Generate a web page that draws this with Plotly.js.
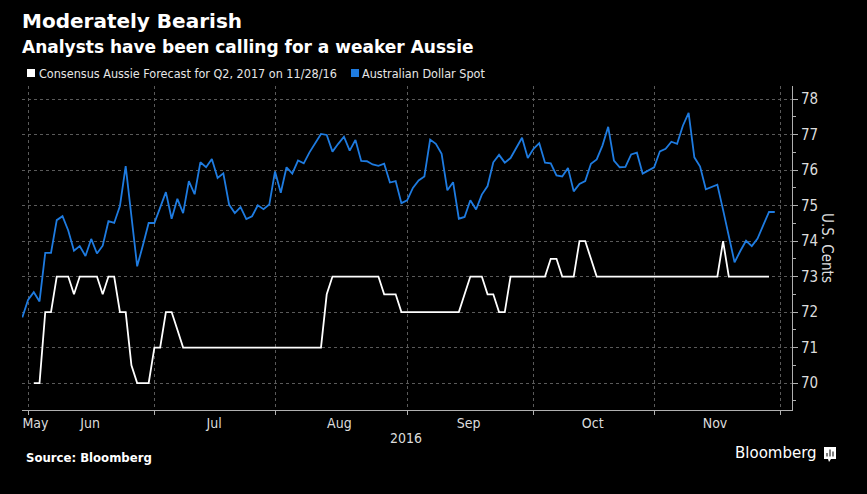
<!DOCTYPE html>
<html>
<head>
<meta charset="utf-8">
<script src="https://cdn.plot.ly/plotly-3.0.1.min.js"></script>
<style>
  html, body { margin: 0; padding: 0; background: #000; }
  #chart { width: 867px; height: 494px; }
</style>
</head>
<body>
<div id="chart"></div>
<script>
// ---- Data (one value per trading day, starting May 31, 2016) ----
const spotSeries = [
  71.85,72.34,72.56,72.30,73.67,73.67,74.59,74.70,74.30,73.73,
  73.86,73.58,74.06,73.65,73.87,74.56,74.51,74.99,76.11,74.70,
  73.29,73.88,74.51,74.51,74.96,75.38,74.63,75.19,74.79,75.69,
  75.32,76.22,76.08,76.31,75.78,75.91,75.03,74.79,74.96,74.62,
  74.70,75.01,74.90,75.03,75.96,75.36,76.08,75.90,76.27,76.19,
  76.50,76.76,77.02,76.99,76.52,76.74,76.94,76.55,76.85,76.26,
  76.25,76.16,76.12,76.18,75.65,75.69,75.07,75.15,75.50,75.71,
  75.82,76.86,76.74,76.46,75.43,75.66,74.63,74.68,75.15,74.89,
  75.31,75.55,76.22,76.43,76.21,76.34,76.64,76.91,76.34,76.60,
  76.76,76.21,76.19,75.85,75.82,76.06,75.40,75.61,75.69,76.18,
  76.30,76.69,77.22,76.27,76.08,76.09,76.44,76.49,75.90,75.99,
  76.08,76.53,76.60,76.80,76.74,77.25,77.61,76.36,76.10,75.46,
  75.52,75.59,74.88,74.14,73.40,73.72,74.01,73.86,74.07,74.45,
  74.82,74.82
];

const forecastSeries = [
  null,null,
  70,70,72,72,73,73,73,72.5,73,73,
  73,73,72.5,73,73,72,72,70.5,70,70,
  70,71,71,72,72,71.5,71,71,71,71,
  71,71,71,71,71,71,71,71,71,71,
  71,71,71,71,71,71,71,71,71,71,
  71,72.5,73,73,73,73,73,73,73,73,
  73,72.5,72.5,72.5,72,72,72,72,72,72,
  72,72,72,72,72,72.5,73,73,73,72.5,
  72.5,72,72,73,73,73,73,73,73,73,
  73.5,73.5,73,73,73,74,74,73.5,73,73,
  73,73,73,73,73,73,73,73,73,73,
  73,73,73,73,73,73,73,73,73,73,
  74,73,73,73,73,73,73,73,73,
  null
];

// Month labels and their trading-day positions
const monthLabels = ['May','Jun','Jul','Aug','Sep','Oct','Nov'];
const monthLabelPos = [2.3, 11.8, 33.4, 55.2, 77.7, 99.3, 120.6];
const monthStartPos = [1, 23, 44, 67, 89, 110, 132];
const yTicks = [70,71,72,73,74,75,76,77,78];

const seriesNames = ['Consensus Aussie Forecast for Q2, 2017 on 11/28/16', 'Australian Dollar Spot'];
const seriesColors = ['#ffffff', '#1e7be0'];

// ---- Layout helpers (pixel -> paper) ----
const PL = 22, PR = 792, PT = 86, PB = 410;
const fx = p => (p - PL) / (PR - PL);
const fy = p => (PB - p) / (PB - PT);

const condensed = '"DejaVu Sans Condensed", "Liberation Sans Narrow", "DejaVu Sans", sans-serif';
const heavy = '"DejaVu Sans", "Open Sans", sans-serif';

const xIdx = spotSeries.map((_, i) => i);

const traces = [
  {
    x: xIdx, y: forecastSeries, type: 'scatter', mode: 'lines',
    name: seriesNames[0], line: { color: seriesColors[0], width: 1.8 },
    connectgaps: false, hoverinfo: 'x+y'
  },
  {
    x: xIdx, y: spotSeries, type: 'scatter', mode: 'lines',
    name: seriesNames[1], line: { color: seriesColors[1], width: 1.8 },
    hoverinfo: 'x+y'
  }
];

const layout = {
  width: 867, height: 494, autosize: false,
  paper_bgcolor: '#000', plot_bgcolor: '#000',
  showlegend: false,
  margin: { l: PL, r: 867 - PR, t: PT, b: 494 - PB, pad: 0 },
  xaxis: {
    range: [-0.05, 134],
    tickmode: 'array', tickvals: monthLabelPos, ticktext: monthLabels,
    ticks: '', showgrid: false, zeroline: false,
    showline: true, linecolor: '#b0b0b0', linewidth: 1,
    tickfont: { family: condensed, size: 14, color: '#dcdcdc' },
    minor: {
      tickmode: 'array', tickvals: monthStartPos,
      ticks: 'outside', ticklen: 4, tickcolor: '#b0b0b0', tickwidth: 1,
      showgrid: true, gridcolor: '#5a5a5a', griddash: 'dot', gridwidth: 1
    },
    fixedrange: true
  },
  yaxis: {
    side: 'right', range: [69.24, 78.37],
    tickmode: 'array', tickvals: yTicks,
    ticks: 'outside', ticklen: 5, tickcolor: '#b0b0b0', tickwidth: 1,
    showline: true, linecolor: '#b0b0b0', linewidth: 1,
    showgrid: true, gridcolor: '#5a5a5a', griddash: 'dot', gridwidth: 1,
    zeroline: false,
    tickfont: { family: condensed, size: 15, color: '#dcdcdc' },
    minor: { dtick: 0.5, tick0: 69.5, ticks: 'outside', ticklen: 3, tickcolor: '#b0b0b0', showgrid: false },
    fixedrange: true
  },
  shapes: [
    { type: 'rect', xref: 'paper', yref: 'paper', x0: fx(27), x1: fx(35), y0: fy(77), y1: fy(69), fillcolor: seriesColors[0], line: { width: 0 } },
    { type: 'rect', xref: 'paper', yref: 'paper', x0: fx(351), x1: fx(359), y0: fy(77), y1: fy(69), fillcolor: seriesColors[1], line: { width: 0 } },
    // Bloomberg logo mark
    { type: 'rect', xref: 'paper', yref: 'paper', x0: fx(824), x1: fx(836), y0: fy(459), y1: fy(447), fillcolor: '#ffffff', line: { width: 0 } },
    { type: 'rect', xref: 'paper', yref: 'paper', x0: fx(826.5), x1: fx(827.5), y0: fy(456.5), y1: fy(453), fillcolor: '#000', line: { width: 0 } },
    { type: 'rect', xref: 'paper', yref: 'paper', x0: fx(829.5), x1: fx(830.5), y0: fy(456.5), y1: fy(449.5), fillcolor: '#000', line: { width: 0 } },
    { type: 'rect', xref: 'paper', yref: 'paper', x0: fx(832.5), x1: fx(833.5), y0: fy(456.5), y1: fy(451.5), fillcolor: '#000', line: { width: 0 } },
    { type: 'path', xref: 'paper', yref: 'paper', path: `M ${fx(828)} ${fy(459)} L ${fx(831)} ${fy(459)} L ${fx(829)} ${fy(462)} Z`, fillcolor: '#ffffff', line: { width: 0 } }
  ],
  annotations: [
    { text: '<b>Moderately Bearish</b>', xref: 'paper', yref: 'paper', x: fx(20), y: fy(21), xanchor: 'left', yanchor: 'middle', showarrow: false, font: { family: heavy, size: 20, color: '#ffffff' } },
    { text: '<b>Analysts have been calling for a weaker Aussie</b>', xref: 'paper', yref: 'paper', x: fx(20), y: fy(46.5), xanchor: 'left', yanchor: 'middle', showarrow: false, font: { family: heavy, size: 17, color: '#ffffff' } },
    { text: seriesNames[0], xref: 'paper', yref: 'paper', x: fx(37), y: fy(73), xanchor: 'left', yanchor: 'middle', showarrow: false, font: { family: condensed, size: 12.5, color: '#e6e6e6' } },
    { text: seriesNames[1], xref: 'paper', yref: 'paper', x: fx(360), y: fy(73), xanchor: 'left', yanchor: 'middle', showarrow: false, font: { family: condensed, size: 12.5, color: '#e6e6e6' } },
    { text: 'U.S. Cents', xref: 'paper', yref: 'paper', x: fx(827), y: fy(248), xanchor: 'center', yanchor: 'middle', textangle: 90, showarrow: false, font: { family: condensed, size: 15, color: '#dcdcdc' } },
    { text: '2016', xref: 'paper', yref: 'paper', x: fx(406), y: fy(438), xanchor: 'center', yanchor: 'middle', showarrow: false, font: { family: condensed, size: 14, color: '#dcdcdc' } },
    { text: '<b>Source: Bloomberg</b>', xref: 'paper', yref: 'paper', x: fx(24), y: fy(457), xanchor: 'left', yanchor: 'middle', showarrow: false, font: { family: condensed, size: 13, color: '#ffffff' } },
    { text: 'Bloomberg', xref: 'paper', yref: 'paper', x: fx(819), y: fy(453), xanchor: 'right', yanchor: 'middle', showarrow: false, font: { family: heavy, size: 15, color: '#ffffff' } }
  ]
};

Plotly.newPlot('chart', traces, layout, { displayModeBar: false, staticPlot: true });
</script>
</body>
</html>
